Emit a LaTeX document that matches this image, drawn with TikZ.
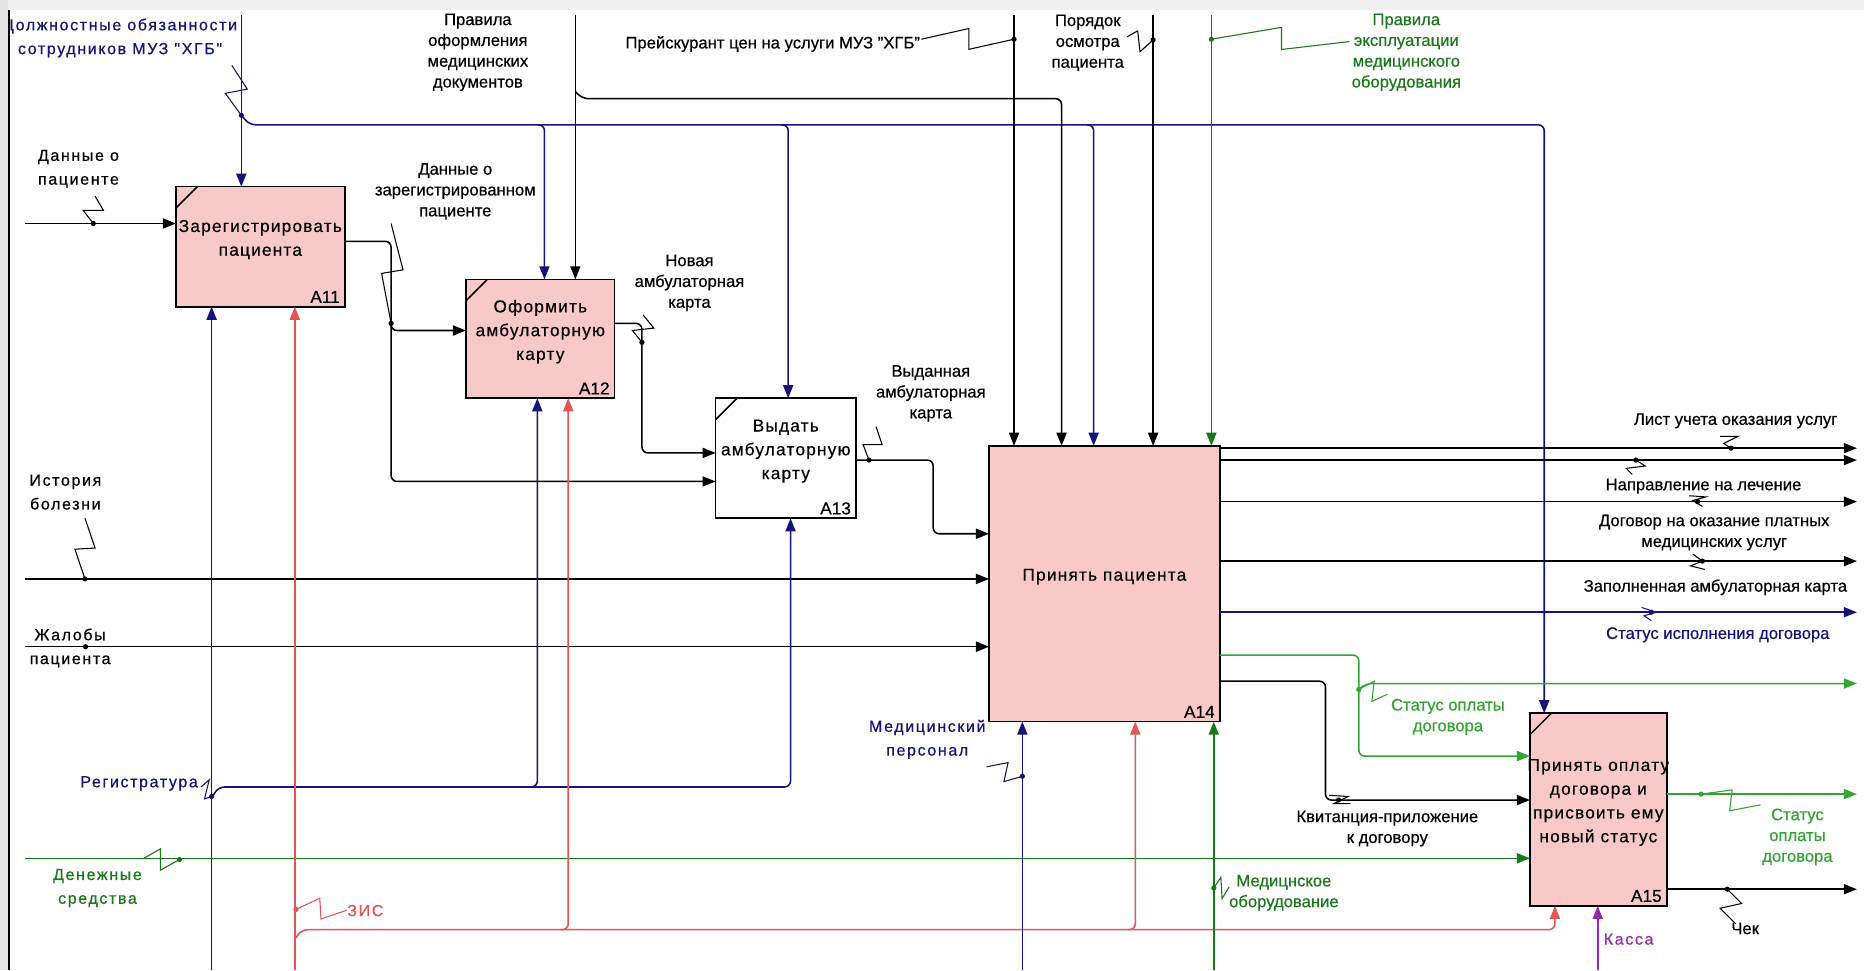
\documentclass[tikz,border=0pt]{standalone}
\usepackage{fontspec}
\setmainfont[FakeBold=0.5]{Liberation Sans}
\newfontfamily\spacedfont[LetterSpace=10,FakeBold=0.5]{Liberation Sans}
\newfontfamily\boxfont[LetterSpace=7,FakeBold=0.5]{Liberation Sans}
\usetikzlibrary{arrows.meta,calc}
\definecolor{navy}{RGB}{20,20,120}
\definecolor{ired}{RGB}{225,85,85}
\definecolor{igreen}{RGB}{25,120,25}
\definecolor{lgreen}{RGB}{50,165,50}
\definecolor{ipurple}{RGB}{150,40,170}
\definecolor{pinkfill}{RGB}{249,201,201}
\tikzset{
 box/.style={draw=black, line width=1.4pt, fill=pinkfill, anchor=north west, inner sep=0pt, outer sep=0pt},
 wbox/.style={box, fill=white},
 btxt/.style={font=\boxfont\fontsize{14.5}{20}\selectfont, align=center, inner sep=0pt},
 bid/.style={font=\fontsize{14.5}{17}\selectfont, anchor=south east, inner xsep=4pt, inner ysep=3pt},
 conn/.style={line width=1.3pt, rounded corners=5pt},
 arr/.style={-{Triangle[length=11pt,width=8.5pt]}},
 sq/.style={line width=0.9pt},
 lbl/.style={font=\fontsize{14}{17.5}\selectfont, align=center, inner sep=0pt},
 slbl/.style={font=\spacedfont\fontsize{13.5}{20}\selectfont, align=center, inner sep=0pt},
}
\begin{document}
\begin{tikzpicture}[x=1pt,y=-1pt]
\useasboundingbox (0,0) rectangle (1568,816);
\fill[white] (0,0) rectangle (1568,816);

% ---------- boxes ----------
\node[box, minimum width=142pt, minimum height=101pt] (A11) at (148,157) {};
\node[box, minimum width=125pt, minimum height=100pt] (A12) at (392,235) {};
\node[wbox, minimum width=118pt, minimum height=101pt] (A13) at (602,335) {};
\node[box, minimum width=194pt, minimum height=232pt] (A14) at (832,375) {};
\node[box, minimum width=115pt, minimum height=162pt] (A15) at (1287,600) {};

\node[btxt] (t11) at ([yshift=6pt]A11.center) {Зарегистрировать\\пациента};
\node[btxt] (t12) at ([yshift=6pt]A12.center) {Оформить\\амбулаторную\\карту};
\node[btxt] (t13) at ([yshift=6pt]A13.center) {Выдать\\амбулаторную\\карту};
\node[btxt] (t14) at ([yshift=6pt]A14.center) {Принять пациента};
\node[btxt] (t15) at ([yshift=6pt]A15.center) {Принять оплату\\договора и\\присвоить ему\\новый статус};

\node[bid] (n11) at (A11.south east) {A11};
\node[bid] (n12) at (A12.south east) {A12};
\node[bid] (n13) at (A13.south east) {A13};
\node[bid] (n14) at (A14.south east) {A14};
\node[bid] (n15) at (A15.south east) {A15};

\foreach \b in {A11,A12,A13,A15}{
  \draw[line width=1.3pt] ($(\b.north west)+(0,18)$) -- ($(\b.north west)+(18,0)$);
}

% ---------- top controls ----------
\draw[conn,navy,arr] (203,13) -- (203,13 |- A11.north);
\draw[conn,navy,arr] (203,97) -- (210,105) -- (1299,105) -- (1299,105 |- A15.north);
\draw[conn,navy,arr] (452,105) -- (458,105) -- (458,105 |- A12.north);
\draw[conn,navy,arr] (657,105) -- (663,105) -- (663,105 |- A13.north);
\draw[conn,navy,arr] (914,105) -- (920,105) -- (920,105 |- A14.north);
\draw[sq,navy] (195,55) -- (208,75) -- (189.5,78.5) -- (203,97);
\fill[navy] (203,97) circle (2.2pt);

\draw[conn,arr] (484,13) -- (484,13 |- A12.north);
\draw[conn,arr] (484,77) -- (490,83) -- (893,83) -- (893,83 |- A14.north);

\draw[conn,arr] (853,13) -- (853,13 |- A14.north);
\draw[sq] (775,33) -- (815,24) -- (815,41.5) -- (853,33);
\fill (853,33) circle (2.2pt);

\draw[conn,arr] (970,13) -- (970,13 |- A14.north);
\draw[sq] (948,31) -- (957,26) -- (959,43.5) -- (970,33.6);
\fill (970,33.6) circle (2.2pt);

\draw[conn,igreen,arr] (1019,13) -- (1019,13 |- A14.north);
\draw[sq,igreen] (1019,33) -- (1078,23) -- (1078,41.6) -- (1135,35);
\fill[igreen] (1019,33) circle (2.2pt);

% ---------- inputs ----------
\draw[conn,arr] (21,188) -- (21,188 -| A11.west);
\draw[sq] (80,165) -- (87,177) -- (70,177) -- (78.5,188);
\fill (78.5,188) circle (2.2pt);

\draw[conn,arr] (A11.east |- 0,203) -- (329,203) -- (329,405) -- (A13.west |- 0,405);
\draw[conn,arr] (329,270) -- (329,278) -- (A12.west |- 0,278);
\draw[sq] (329,188) -- (339,227) -- (321,230) -- (329,272);
\fill (329,272) circle (2.2pt);

\draw[conn,arr] (A12.east |- 0,272) -- (540,272) -- (540,381) -- (A13.west |- 0,381);
\draw[sq] (541,265) -- (550,276) -- (532,278) -- (540,288);
\fill (540,288) circle (2.2pt);

\draw[conn,arr] (A13.east |- 0,387) -- (785,387) -- (785,449) -- (A14.west |- 0,449);
\draw[sq] (737,359) -- (742,374) -- (726,374) -- (731,387);
\fill (731,387) circle (2.2pt);

\draw[conn,arr] (21,487) -- (A14.west |- 0,487);
\draw[sq] (71.5,436) -- (80,461) -- (63,462) -- (71.5,487);
\fill (71.5,487) circle (2.2pt);

\draw[conn,arr] (21,544) -- (A14.west |- 0,544);
\fill (72,544) circle (2.2pt);

\draw[conn,igreen,arr] (21,722) -- (A15.west |- 0,722);
\draw[sq,igreen] (121,722) -- (135,714) -- (135,732) -- (151,723);
\fill[igreen] (151,723) circle (2.2pt);

% ---------- mechanisms ----------
\draw[conn,navy,arr] (178,816) -- (178,816 |- A11.south);
\draw[conn,navy,arr] (178,671) -- (184,662) -- (665,662) -- (665,662 |- A13.south);
\draw[conn,navy,arr] (446,662) -- (452,662) -- (452,662 |- A12.south);
\draw[sq,navy] (169,662) -- (176,656) -- (172,672) -- (178,670);
\fill[navy] (178,670) circle (2.2pt);

\draw[conn,ired,arr] (248,816) -- (248,816 |- A11.south);
\draw[conn,ired,arr] (248,790) -- (254,782) -- (1308,782) -- (1308,782 |- A15.south);
\draw[conn,ired,arr] (472,782) -- (478,782) -- (478,782 |- A12.south);
\draw[conn,ired,arr] (949,782) -- (955,782) -- (955,782 |- A14.south);
\draw[sq,ired] (249,765) -- (269,755.5) -- (270,773) -- (292,765.6);
\fill[ired] (249,765) circle (2.2pt);

\draw[conn,navy,arr] (860,816) -- (860,816 |- A14.south);
\draw[sq,navy] (830,645) -- (848,641.5) -- (844.5,657.5) -- (860,653);
\fill[navy] (860,653) circle (2.2pt);

\draw[conn,igreen,arr] (1021,816) -- (1021,816 |- A14.south);
\draw[sq,igreen] (1021,747) -- (1027,738) -- (1028,756) -- (1034,746);
\fill[igreen] (1021,747) circle (2.2pt);

\draw[conn,ipurple,arr] (1344,816) -- (1344,816 |- A15.south);

% ---------- outputs ----------
\draw[conn,arr] (A14.east |- 0,377) -- (1562,377);
\draw[sq] (1447,367) -- (1462,367) -- (1450,373) -- (1456,377);
\fill (1456,377) circle (2.2pt);
\draw[conn,arr] (A14.east |- 0,387) -- (1562,387);
\draw[sq] (1376,387) -- (1384,392) -- (1368,394) -- (1373,399);
\fill (1376,387) circle (2.2pt);
\draw[conn,arr] (A14.east |- 0,422) -- (1562,422);
\draw[sq] (1421,417) -- (1435,418) -- (1424,421) -- (1432,426);
\fill (1428,422) circle (2.2pt);
\draw[conn,arr] (A14.east |- 0,472) -- (1562,472);
\draw[sq] (1424,466) -- (1432,472) -- (1422,476) -- (1434,479);
\fill (1432,472) circle (2.2pt);
\draw[conn,navy,arr] (A14.east |- 0,515) -- (1562,515);
\draw[sq,navy] (1381,511) -- (1393,515) -- (1383,518) -- (1389,522);
\fill[navy] (1389,515) circle (2.2pt);

\draw[conn,lgreen,arr] (A14.east |- 0,551) -- (1143,551) -- (1143,636) -- (A15.west |- 0,636);
\draw[conn,lgreen,arr] (1143,580) -- (1149,575) -- (1562,575);
\draw[sq,lgreen] (1143,580) -- (1156,573) -- (1154,590) -- (1167,584);
\fill[lgreen] (1143,580) circle (2.2pt);

\draw[conn,arr] (A14.east |- 0,573) -- (1115,573) -- (1115,673) -- (A15.west |- 0,673);
\draw[sq] (1118,669) -- (1134,670) -- (1122,676) -- (1136,676);
\fill (1126,673) circle (2.2pt);

\draw[conn,lgreen,arr] (A15.east |- 0,668) -- (1562,668);
\draw[sq,lgreen] (1431,668) -- (1457,664.5) -- (1455,682) -- (1481,677);
\fill[lgreen] (1431,668) circle (2.2pt);

\draw[conn,arr] (A15.east |- 0,748) -- (1562,748);
\draw[sq] (1453,748) -- (1465,760) -- (1447,764) -- (1460,777);
\fill (1453,748) circle (2.2pt);

% ---------- labels ----------
\begin{scope}
\clip (9,0) rectangle (320,70);
\node[slbl,navy] (lDolzh) at (101,32) {Должностные обязанности\\сотрудников МУЗ "ХГБ"};
\end{scope}
\node[lbl] (lPrav) at (402,44) {Правила\\оформления\\медицинских\\документов};
\node[lbl] (lPreisk) at (650,37) {Прейскурант цен на услуги МУЗ "ХГБ"};
\node[lbl] (lPoryadok) at (915,36) {Порядок\\осмотра\\пациента};
\node[lbl,igreen] (lExpl) at (1183,44) {Правила\\эксплуатации\\медицинского\\оборудования};
\node[slbl] (lDann) at (66,142) {Данные о\\пациенте};
\node[lbl] (lDannReg) at (383,161) {Данные о\\зарегистрированном\\пациенте};
\node[lbl] (lNov) at (580,238) {Новая\\амбулаторная\\карта};
\node[lbl] (lVyd) at (783,331) {Выданная\\амбулаторная\\карта};
\node[slbl] (lIst) at (55,414) {История\\болезни};
\node[slbl] (lZhal) at (59,545) {Жалобы\\пациента};
\node[slbl,navy] (lReg) at (117,659) {Регистратура};
\node[slbl,igreen] (lDen) at (82,747) {Денежные\\средства};
\node[slbl,ired,anchor=west] (lZIS) at (292,766) {ЗИС};
\node[slbl,navy] (lMedP) at (780,622) {Медицинский\\персонал};
\node[lbl,igreen] (lMedO) at (1080,751) {Медицнское\\оборудование};
\node[slbl,ipurple] (lKas) at (1370,790) {Касса};
\node[lbl] (lList) at (1460,354) {Лист учета оказания услуг};
\node[lbl] (lNapr) at (1433,409) {Направление на лечение};
\node[lbl] (lDog) at (1442,448) {Договор на оказание платных\\медицинских услуг};
\node[lbl] (lZap) at (1443,494) {Заполненная амбулаторная карта};
\node[lbl,navy] (lStIsp) at (1445,534) {Статус исполнения договора};
\node[lbl,lgreen] (lStOpl1) at (1218,603) {Статус оплаты\\договора};
\node[lbl] (lKvit) at (1167,697) {Квитанция-приложение\\к договору};
\node[lbl,lgreen] (lStOpl2) at (1512,704) {Статус\\оплаты\\договора};
\node[lbl] (lChek) at (1468,781) {Чек};

% ---------- frame edges ----------
\fill[gray!12] (0,0) rectangle (1568,8);
\fill[gray!22] (0,0) rectangle (7,816);
\draw[line width=1pt] (7.5,8) -- (7.5,816);
\end{tikzpicture}
\end{document}
